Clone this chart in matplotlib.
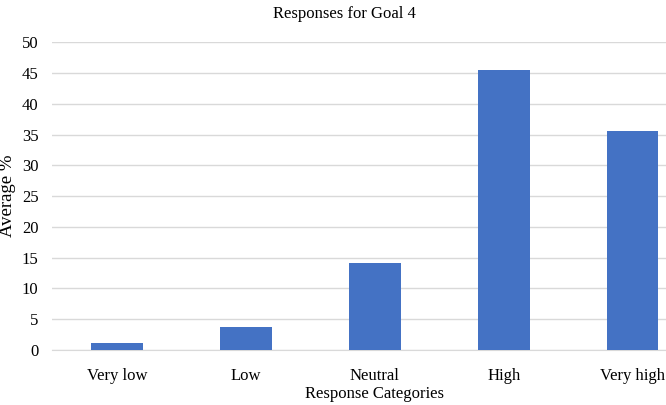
import matplotlib.pyplot as plt

categories = ["Very low", "Low", "Neutral", "High", "Very high"]
values = [1.2, 3.7, 14.2, 45.5, 35.5]
yticks = [0, 5, 10, 15, 20, 25, 30, 35, 40, 45, 50]

plt.rcParams['font.family'] = ['Liberation Serif', 'DejaVu Serif']

fig = plt.figure(figsize=(6.66, 4.05), dpi=100)
# plot area runs past the right edge, as in the cropped original
ax = fig.add_axes([0.0788, 0.1358, 0.968, 0.760])

x = range(len(categories))
ax.bar(x, values, width=0.4, color='#4472C4', zorder=3)

ax.set_xlim(-0.5, len(categories) - 0.5)
ax.set_ylim(0, 50)
ax.set_yticks(yticks)
ax.set_xticks(list(x))
ax.set_xticklabels(categories, fontsize=12)
ax.tick_params(axis='y', labelsize=12, length=0, pad=10)
ax.tick_params(axis='x', length=0, pad=13)

ax.grid(axis='y', color='#d9d9d9', linewidth=1, zorder=0)
for s in ['top', 'right', 'left']:
    ax.spines[s].set_visible(False)
ax.spines['bottom'].set_color('#d9d9d9')

ax.set_xlabel('Response Categories', fontsize=12)
ax.xaxis.set_label_coords(0.5, -0.118)
ax.set_ylabel('Average %', fontsize=13.5)
ax.yaxis.set_label_coords(-0.057, 0.5)
fig.text(344 / 666, 1 - 14 / 405, 'Responses for Goal 4', ha='center', va='center', fontsize=12)

fig.savefig('out.png', dpi=100)
